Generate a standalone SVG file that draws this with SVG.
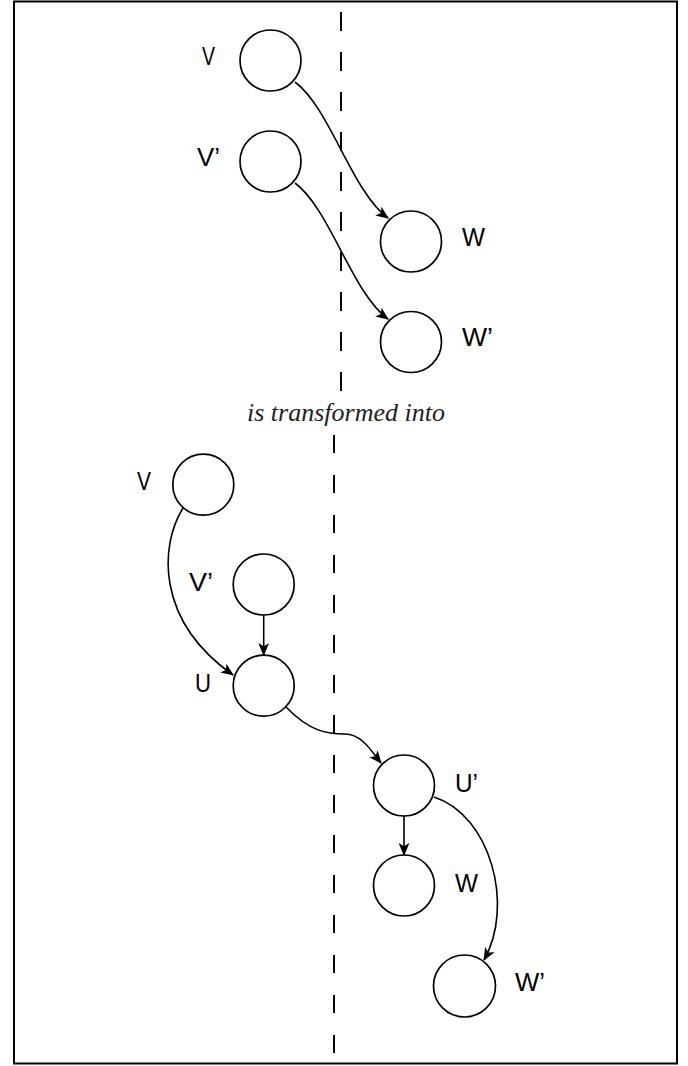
<svg xmlns="http://www.w3.org/2000/svg" width="688" height="1066" viewBox="0 0 688 1066">
  <style>
    .node { fill: #ffffff; stroke: #000000; stroke-width: 1.7; }
    .edge { fill: none; stroke: #000000; stroke-width: 1.6; marker-end: url(#arrow); }
    .label { font-family: "Liberation Sans", Arial, sans-serif; font-size: 25px; fill: #000000; }
    .divider { fill: none; stroke: #000000; stroke-width: 2; stroke-dasharray: 19 21; }
    .caption { font-family: "Liberation Serif", "Times New Roman", serif; font-style: italic; font-size: 26px; fill: #222222; }
  </style>
  <defs>
    <marker id="arrow" viewBox="0 0 12 10" refX="11" refY="5" markerWidth="13" markerHeight="11" markerUnits="userSpaceOnUse" orient="auto">
      <path d="M0,0 L12,5 L0,10 L3,5 Z" fill="#000000"/>
    </marker>
  </defs>

  <!-- frame -->
  <rect x="14" y="1.5" width="663" height="1062" fill="#ffffff" stroke="#000000" stroke-width="2"/>

  <!-- partition lines -->
  <line class="divider" x1="341" y1="12" x2="341" y2="394"/>
  <line class="divider" x1="334" y1="435" x2="334" y2="1058" style="stroke-dasharray: 18 22"/>

  <text class="caption" x="346" y="421" text-anchor="middle">is transformed into</text>

  <!-- connectors -->
  <g id="connectors">
    <path class="edge" d="M295,82 C330,108 352,192 388,218"/>
    <path class="edge" d="M295,183 C330,209 352,293 388,319"/>
    <path class="edge" d="M183,508 C160,545 155,620 233,675"/>
    <path class="edge" d="M263.7,615 L263.7,655"/>
    <path class="edge" d="M286,707 C310,732 328,734 345,734 C362,734 372,752 381,763"/>
    <path class="edge" d="M404,816 L404,855"/>
    <path class="edge" d="M434,797 C490,815 515,905 484,960"/>
  </g>

  <!-- before -->
  <g id="top-v">
    <circle class="node" cx="270.5" cy="60.5" r="30.5"/>
    <text class="label" x="202" y="65" textLength="13" lengthAdjust="spacingAndGlyphs">V</text>
  </g>
  <g id="top-v-prime">
    <circle class="node" cx="270.5" cy="161.5" r="30.5"/>
    <text class="label" x="197" y="166" textLength="23" lengthAdjust="spacingAndGlyphs">V’</text>
  </g>
  <g id="top-w">
    <circle class="node" cx="411" cy="241.5" r="30.5"/>
    <text class="label" x="462" y="246" textLength="23" lengthAdjust="spacingAndGlyphs">W</text>
  </g>
  <g id="top-w-prime">
    <circle class="node" cx="411" cy="342" r="30.5"/>
    <text class="label" x="462" y="346" textLength="31" lengthAdjust="spacingAndGlyphs">W’</text>
  </g>

  <!-- after -->
  <g id="bottom-v">
    <circle class="node" cx="203.3" cy="484.7" r="30.5"/>
    <text class="label" x="137" y="490" textLength="14" lengthAdjust="spacingAndGlyphs">V</text>
  </g>
  <g id="bottom-v-prime">
    <circle class="node" cx="263.7" cy="584.5" r="30.5"/>
    <text class="label" x="189" y="591" textLength="24" lengthAdjust="spacingAndGlyphs">V’</text>
  </g>
  <g id="bottom-u">
    <circle class="node" cx="263.7" cy="685.7" r="30.5"/>
    <text class="label" x="195" y="692" textLength="16" lengthAdjust="spacingAndGlyphs">U</text>
  </g>
  <g id="bottom-u-prime">
    <circle class="node" cx="404" cy="785.5" r="30.5"/>
    <text class="label" x="455" y="792" textLength="23" lengthAdjust="spacingAndGlyphs">U’</text>
  </g>
  <g id="bottom-w">
    <circle class="node" cx="404" cy="885.5" r="30.5"/>
    <text class="label" x="455" y="892" textLength="23" lengthAdjust="spacingAndGlyphs">W</text>
  </g>
  <g id="bottom-w-prime">
    <circle class="node" cx="464.5" cy="986" r="31"/>
    <text class="label" x="515" y="991" textLength="30" lengthAdjust="spacingAndGlyphs">W’</text>
  </g>
</svg>
